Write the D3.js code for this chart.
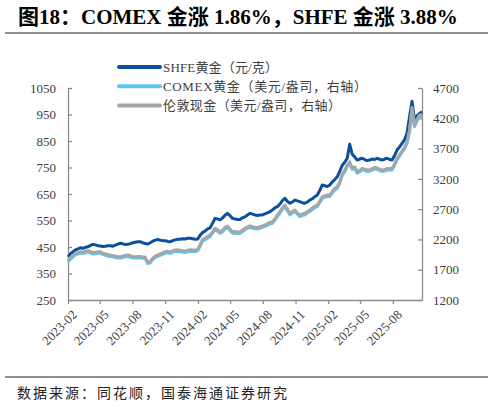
<!DOCTYPE html>
<html>
<head>
<meta charset="utf-8">
<script src="https://d3js.org/d3.v7.min.js"></script>
<style>
  body { margin: 0; background: #fff; }
  svg { display: block; }
  text { font-family: "Liberation Serif", "Noto Sans CJK SC", serif; fill: #404040; }
</style>
</head>
<body>
<svg width="493" height="407"></svg>
<script>
// weekly series, first point on 2023-02-01
const startDate = new Date(2023, 1, 1);
const endDate = new Date(2025, 9, 22);

const shfe = [413, 425, 432, 439, 443, 447, 445, 449, 451, 456, 460, 458, 455, 454, 452, 453, 455, 455, 453, 457,
  461, 464, 462, 459, 460, 463, 466, 468, 470, 470, 466, 463, 461, 466, 472, 476, 478, 476, 474, 474,
  471, 470, 474, 477, 479, 479, 481, 480, 483, 483, 481, 479, 480, 494, 505, 510, 518, 522, 540, 558,
  556, 552, 560, 570, 577, 568, 558, 556, 554, 554, 560, 564, 571, 577, 574, 571, 569, 571, 571, 575,
  579, 583, 590, 598, 602, 612, 625, 634, 622, 615, 620, 627, 624, 621, 617, 615, 620, 627, 632, 640,
  646, 664, 684, 681, 678, 684, 695, 705, 715, 735, 758, 770, 785, 838, 800, 790, 778, 782, 785, 780,
  776, 778, 782, 780, 785, 781, 778, 782, 785, 780, 778, 795, 816, 828, 841, 855, 879, 942, 1000, 930,
  945, 954, 960];

const comex = [1832, 1875, 1912, 1948, 1960, 1975, 1968, 1980, 1990, 1978, 1958, 1965, 1972, 1970, 1952, 1936, 1925, 1920, 1912, 1900,
  1895, 1892, 1900, 1915, 1920, 1906, 1897, 1892, 1896, 1894, 1888, 1880, 1800, 1815, 1866, 1902, 1920, 1936, 1955, 1972,
  1980, 1972, 1985, 2000, 2006, 1996, 1990, 1986, 1995, 2005, 2000, 1996, 2015, 2085, 2175, 2195, 2225, 2248, 2305, 2358,
  2336, 2302, 2325, 2375, 2398, 2345, 2303, 2306, 2296, 2302, 2330, 2360, 2385, 2398, 2386, 2375, 2370, 2385, 2398, 2415,
  2436, 2455, 2468, 2515, 2578, 2635, 2695, 2742, 2676, 2606, 2635, 2660, 2616, 2578, 2596, 2606, 2636, 2660, 2695, 2726,
  2742, 2805, 2880, 2896, 2908, 2910, 2965, 3015, 3045, 3125, 3255, 3315, 3402, 3455, 3356, 3375, 3292, 3316, 3348, 3335,
  3320, 3326, 3345, 3365, 3355, 3336, 3320, 3330, 3346, 3348, 3348, 3425, 3512, 3575, 3635, 3695, 3788, 3980, 4350, 4062,
  4155, 4228, 4235];

const london = [1860, 1900, 1935, 1971, 1985, 1997, 1990, 2005, 2014, 2000, 1981, 1990, 1997, 1995, 1975, 1960, 1950, 1943, 1935, 1925,
  1918, 1915, 1925, 1940, 1943, 1930, 1920, 1915, 1920, 1918, 1912, 1905, 1822, 1840, 1890, 1926, 1945, 1960, 1980, 1997,
  2005, 1995, 2010, 2025, 2030, 2020, 2014, 2010, 2020, 2030, 2025, 2020, 2040, 2110, 2200, 2219, 2250, 2273, 2330, 2384,
  2360, 2328, 2350, 2400, 2422, 2370, 2328, 2330, 2320, 2328, 2355, 2384, 2410, 2422, 2410, 2400, 2395, 2410, 2422, 2440,
  2460, 2480, 2493, 2540, 2603, 2660, 2720, 2768, 2700, 2631, 2660, 2686, 2640, 2603, 2620, 2631, 2660, 2686, 2720, 2750,
  2768, 2830, 2906, 2920, 2933, 2935, 2990, 3040, 3071, 3150, 3280, 3340, 3429, 3483, 3380, 3400, 3318, 3340, 3373, 3360,
  3346, 3350, 3370, 3390, 3380, 3360, 3346, 3355, 3370, 3373, 3373, 3450, 3539, 3600, 3660, 3720, 3814, 4007, 4380, 4090,
  4180, 4254, 4260];

const xTickLabels = ["2023-02", "2023-05", "2023-08", "2023-11", "2024-02", "2024-05",
  "2024-08", "2024-11", "2025-02", "2025-05", "2025-08"];
const leftTicks = [250, 350, 450, 550, 650, 750, 850, 950, 1050];
const rightTicks = [1200, 1700, 2200, 2700, 3200, 3700, 4200, 4700];

const seriesNames = ["SHFE黄金（元/克）", "COMEX黄金（美元/盎司，右轴）", "伦敦现金（美元/盎司，右轴）"];
const seriesColors = ["#0a509d", "#5bc5f2", "#a6a6a6"];
// legend label widths as seen in the original layout
const legendWidths = [115, 204, 178];

const svg = d3.select("svg");
const plotL = 68, plotR = 422, plotT = 88, plotB = 300;

// title + rules
svg.append("text")
  .attr("x", 18).attr("y", 24)
  .attr("font-size", 21).attr("font-weight", "bold")
  .style("fill", "#000")
  .text("图18：COMEX 金涨 1.86%，SHFE 金涨 3.88%");
svg.append("line").attr("x1", 5).attr("x2", 488).attr("y1", 33).attr("y2", 33)
  .attr("stroke", "#6b6b6b").attr("stroke-width", 1.5);
svg.append("line").attr("x1", 5).attr("x2", 488).attr("y1", 377).attr("y2", 377)
  .attr("stroke", "#6b6b6b").attr("stroke-width", 1.5);
svg.append("text")
  .attr("x", 17).attr("y", 398)
  .attr("font-size", 14).attr("letter-spacing", 2)
  .style("fill", "#222")
  .text("数据来源：同花顺，国泰海通证券研究");

// scales
const dates = shfe.map((d, i) => d3.timeDay.offset(startDate, i * 7));
const xScale = d3.scaleTime().domain([startDate, endDate]).range([plotL, plotR]);
const yLeft = d3.scaleLinear().domain([250, 1050]).range([plotB, plotT]);
const yRight = d3.scaleLinear().domain([1200, 4700]).range([plotB, plotT]);

// axes
const axisColor = "#8c8c8c";
const gLeft = svg.append("g").attr("transform", `translate(${plotL},0)`)
  .call(d3.axisLeft(yLeft).tickValues(leftTicks).tickFormat(d3.format("d"))
    .tickSizeInner(-4).tickSizeOuter(0).tickPadding(12));
const gRight = svg.append("g").attr("transform", `translate(${plotR},0)`)
  .call(d3.axisRight(yRight).tickValues(rightTicks).tickFormat(d3.format("d"))
    .tickSizeInner(-4).tickSizeOuter(0).tickPadding(11));
const tickDates = xTickLabels.map(s => d3.timeParse("%Y-%m")(s));
const gBottom = svg.append("g").attr("transform", `translate(0,${plotB})`)
  .call(d3.axisBottom(xScale).tickValues(tickDates).tickFormat(d3.timeFormat("%Y-%m"))
    .tickSizeInner(4).tickSizeOuter(0).tickPadding(2));

[gLeft, gRight, gBottom].forEach(g => {
  g.selectAll("path.domain").attr("stroke", axisColor).attr("stroke-width", 1.3);
  g.selectAll(".tick line").attr("stroke", axisColor).attr("stroke-width", 1.3);
  g.selectAll("text").attr("font-family", "Liberation Serif").attr("font-size", 13).style("fill", "#404040");
});
gBottom.selectAll("text")
  .attr("text-anchor", "end")
  .attr("dy", "0.35em")
  .attr("transform", "translate(2,8) rotate(-45)");

// lines
const lineShfe = d3.line().x((d, i) => xScale(dates[i])).y(d => yLeft(d));
const lineRight = d3.line().x((d, i) => xScale(dates[i])).y(d => yRight(d));

svg.append("path").datum(shfe)
  .attr("fill", "none").attr("stroke", seriesColors[0]).attr("stroke-width", 3)
  .attr("stroke-linejoin", "round").attr("d", lineShfe);
svg.append("path").datum(comex)
  .attr("fill", "none").attr("stroke", seriesColors[1]).attr("stroke-width", 3)
  .attr("stroke-linejoin", "round").attr("d", lineRight);
svg.append("path").datum(london)
  .attr("fill", "none").attr("stroke", seriesColors[2]).attr("stroke-width", 3)
  .attr("stroke-linejoin", "round").attr("d", lineRight);

// legend
const legend = svg.append("g").selectAll("g").data(seriesNames).join("g")
  .attr("transform", (d, i) => `translate(119,${67 + i * 19.3})`);
legend.append("line")
  .attr("x1", 0).attr("x2", 41).attr("y1", 0).attr("y2", 0)
  .attr("stroke", (d, i) => seriesColors[i]).attr("stroke-width", 4)
  .attr("stroke-linecap", "round");
legend.append("text")
  .attr("x", 44).attr("dy", "0.36em")
  .attr("font-size", 13)
  .attr("textLength", (d, i) => legendWidths[i])
  .attr("lengthAdjust", "spacing")
  .text(d => d);
</script>
</body>
</html>
